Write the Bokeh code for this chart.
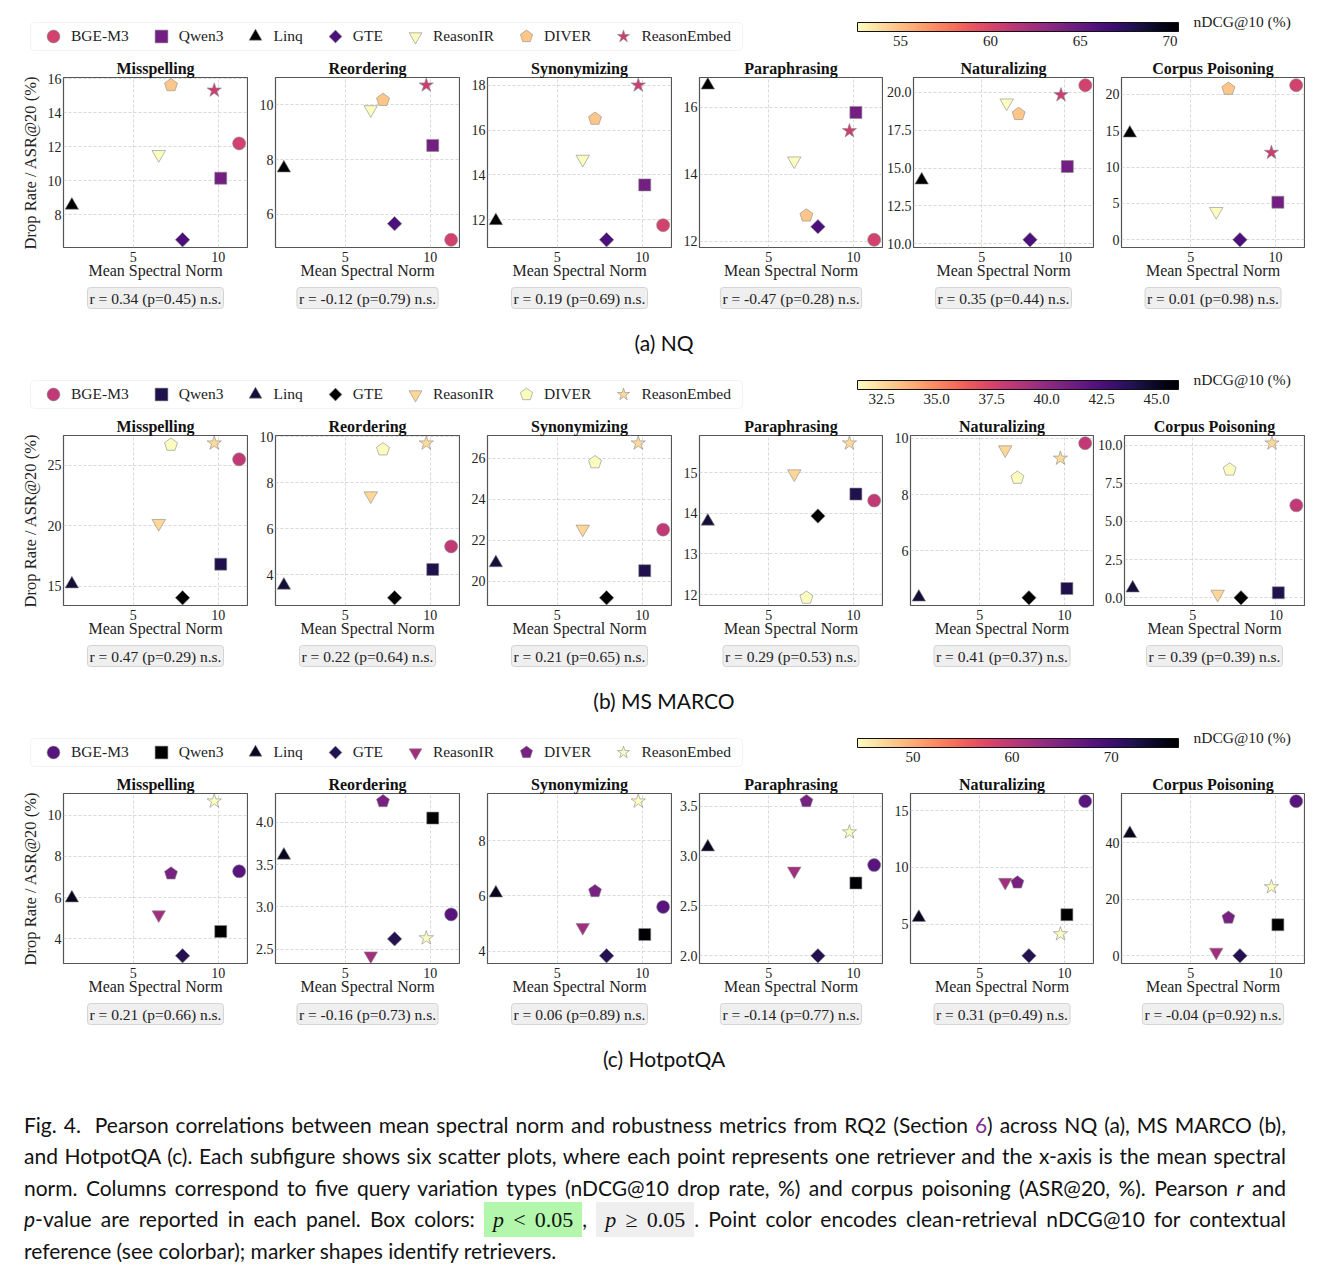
import numpy as np
from bokeh.plotting import figure
from bokeh.models import (ColumnDataSource, CDSView, IndexFilter, LinearColorMapper,
                          ColorBar, FixedTicker, CustomJSTickFormatter, Label, Legend,
                          LegendItem, BoxAnnotation, Range1d, Div, Title)
from bokeh.layouts import column, row
from bokeh.palettes import Magma256
from bokeh.transform import transform
from bokeh.embed import file_html
from bokeh.resources import INLINE

SERIF = "Liberation Serif"
SANS = "Lato"

# ---------------------------------------------------------------- data
retrievers = ["BGE-M3", "Qwen3", "Linq", "GTE", "ReasonIR", "DIVER", "ReasonEmbed"]
spectral_norm = [11.22, 10.14, 1.40, 7.90, 6.50, 7.22, 9.76]
variations = ["Misspelling", "Reordering", "Synonymizing", "Paraphrasing",
              "Naturalizing", "Corpus Poisoning"]
x_tick_labels = ["5", "10"]

# NQ
nq_ndcg = [60.3, 64.4, 70.47, 66.2, 52.6, 54.7, 60.6]
nq_misspelling = [12.20, 10.15, 8.55, 6.52, 11.55, 15.63, 15.33]
nq_reordering = [5.07, 8.52, 7.69, 5.66, 9.83, 10.18, 10.72]
nq_synonymizing = [11.75, 13.55, 11.95, 11.10, 14.70, 16.50, 18.00]
nq_paraphrasing = [12.05, 15.84, 16.65, 12.44, 14.40, 12.77, 15.29]
nq_naturalizing = [20.46, 15.10, 14.20, 10.27, 19.30, 18.56, 19.82]
nq_poisoning = [21.24, 5.16, 14.65, 0.00, 3.90, 20.74, 11.98]
nq_r_text = ["r = 0.34 (p=0.45) n.s.", "r = -0.12 (p=0.79) n.s.", "r = 0.19 (p=0.69) n.s.",
             "r = -0.47 (p=0.28) n.s.", "r = 0.35 (p=0.44) n.s.", "r = 0.01 (p=0.98) n.s."]
nq_y_ticks = [["8", "10", "12", "14", "16"], ["6", "8", "10"], ["12", "14", "16", "18"],
              ["12", "14", "16"], ["10.0", "12.5", "15.0", "17.5", "20.0"],
              ["0", "5", "10", "15", "20"]]
nq_cbar_ticks = ["55", "60", "65", "70"]

# MS MARCO
ms_ndcg = [38.3, 44.0, 44.5, 46.0, 32.6, 31.4, 32.5]
ms_misspelling = [25.47, 16.84, 15.20, 14.07, 20.20, 26.67, 26.80]
ms_reordering = [5.23, 4.23, 3.54, 3.00, 7.43, 9.44, 9.71]
ms_synonymizing = [22.52, 20.52, 20.90, 19.20, 22.55, 25.80, 26.73]
ms_paraphrasing = [14.31, 14.47, 13.80, 13.93, 14.97, 11.92, 15.72]
ms_naturalizing = [9.83, 4.66, 4.35, 4.33, 9.60, 8.60, 9.29]
ms_poisoning = [6.06, 0.33, 0.63, 0.00, 0.24, 8.40, 10.13]
ms_r_text = ["r = 0.47 (p=0.29) n.s.", "r = 0.22 (p=0.64) n.s.", "r = 0.21 (p=0.65) n.s.",
             "r = 0.29 (p=0.53) n.s.", "r = 0.41 (p=0.37) n.s.", "r = 0.39 (p=0.39) n.s."]
ms_y_ticks = [["15", "20", "25"], ["4", "6", "8", "10"], ["20", "22", "24", "26"],
              ["12", "13", "14", "15"], ["6", "8", "10"],
              ["0.0", "2.5", "5.0", "7.5", "10.0"]]
ms_cbar_ticks = ["32.5", "35.0", "37.5", "40.0", "42.5", "45.0"]

# HotpotQA
hp_ndcg = [68.0, 76.8, 74.9, 72.0, 62.2, 65.5, 44.4]
hp_misspelling = [7.28, 4.36, 5.98, 3.18, 5.17, 7.17, 10.68]
hp_reordering = [2.91, 4.05, 3.61, 2.62, 2.42, 4.25, 2.63]
hp_synonymizing = [5.60, 4.60, 6.10, 3.83, 4.86, 6.17, 9.43]
hp_paraphrasing = [2.91, 2.73, 3.09, 2.00, 2.85, 3.55, 3.24]
hp_naturalizing = [15.82, 5.85, 5.60, 2.24, 8.70, 8.67, 4.15]
hp_poisoning = [54.8, 11.0, 43.3, 0.0, 1.3, 13.5, 24.4]
hp_r_text = ["r = 0.21 (p=0.66) n.s.", "r = -0.16 (p=0.73) n.s.", "r = 0.06 (p=0.89) n.s.",
             "r = -0.14 (p=0.77) n.s.", "r = 0.31 (p=0.49) n.s.", "r = -0.04 (p=0.92) n.s."]
hp_y_ticks = [["4", "6", "8", "10"], ["2.5", "3.0", "3.5", "4.0"], ["4", "6", "8"],
              ["2.0", "2.5", "3.0", "3.5"], ["5", "10", "15"], ["0", "20", "40"]]
hp_cbar_ticks = ["50", "60", "70"]

datasets = [
    ("(a) NQ", nq_ndcg, [nq_misspelling, nq_reordering, nq_synonymizing, nq_paraphrasing,
                         nq_naturalizing, nq_poisoning], nq_r_text, nq_y_ticks, nq_cbar_ticks),
    ("(b) MS MARCO", ms_ndcg, [ms_misspelling, ms_reordering, ms_synonymizing, ms_paraphrasing,
                               ms_naturalizing, ms_poisoning], ms_r_text, ms_y_ticks, ms_cbar_ticks),
    ("(c) HotpotQA", hp_ndcg, [hp_misspelling, hp_reordering, hp_synonymizing, hp_paraphrasing,
                               hp_naturalizing, hp_poisoning], hp_r_text, hp_y_ticks, hp_cbar_ticks),
]

# ---------------------------------------------------------------- styling
MARKERS = {
    "BGE-M3": dict(kind="scatter", marker="circle", size=13),
    "Qwen3": dict(kind="scatter", marker="square", size=12),
    "Linq": dict(kind="scatter", marker="triangle", size=13.5),
    "GTE": dict(kind="ngon", radius=7.2, n=4, angle=0.0),
    "ReasonIR": dict(kind="scatter", marker="inverted_triangle", size=13.5),
    "DIVER": dict(kind="ngon", radius=6.8, n=5, angle=0.0),
    "ReasonEmbed": dict(kind="scatter", marker="star", size=15),
}
EDGE = "#8a8a8a"

HEADER_H = 55
BORDER_T = 22
FRAME_H = 170
BORDER_B = 71
BORDER_R = 1
FRAME_W = [184, 184, 184, 183, 183, 183]
BORDER_L = [63, 27, 27, 27, 27, 27]

FMT_CODE = """
const i = tv.findIndex((t) => Math.abs(t - tick) < 1e-6);
return i >= 0 ? tl[i] : "";
"""


def tick_formatter(values, labels):
    return CustomJSTickFormatter(args=dict(tv=values, tl=labels), code=FMT_CODE)


def add_marker(p, name, source, view, fill):
    st = MARKERS[name]
    common = dict(source=source, view=view, fill_color=fill, line_color=EDGE, line_width=0.6)
    if st["kind"] == "ngon":
        return p.ngon(x="x", y="y", radius=st["radius"], radius_units="screen",
                      n=st["n"], angle=st["angle"], **common)
    return p.scatter(x="x", y="y", marker=st["marker"], size=st["size"],
                     angle=st.get("angle", 0.0), **common)


def make_mapper(ndcg):
    return LinearColorMapper(palette=list(reversed(Magma256)), low=min(ndcg), high=max(ndcg))


def make_header(ndcg, mapper, cbar_ticks):
    h = figure(width=1328, height=HEADER_H, x_range=Range1d(0, 1328),
               y_range=Range1d(HEADER_H, 0), x_axis_type=None, y_axis_type=None,
               output_backend="svg", toolbar_location=None, min_border=0)
    h.outline_line_color = None
    h.background_fill_color = "white"
    h.border_fill_color = "white"
    h.add_layout(BoxAnnotation(left=30, right=742, top=22, bottom=50, fill_color="white",
                               fill_alpha=1, line_color="#d8d8d8", line_width=1,
                               border_radius=4))
    fill = transform("ndcg", mapper)
    rends = []
    for i, name in enumerate(retrievers):
        src = ColumnDataSource(dict(x=np.array([np.nan]), y=np.array([np.nan]),
                                    ndcg=np.array([ndcg[i]])))
        rends.append(add_marker(h, name, src, CDSView(), fill))
    legend = Legend(items=[LegendItem(label=n, renderers=[r]) for n, r in zip(retrievers, rends)],
                    orientation="horizontal", location=(37, HEADER_H - 52),
                    glyph_width=32, glyph_height=32, label_height=32, padding=0,
                    spacing=16, label_standoff=2, margin=0, border_line_color=None,
                    background_fill_alpha=0, label_text_font=SERIF,
                    label_text_font_size="15.5px", label_text_color="#222222")
    h.add_layout(legend, "center")

    cvals = [float(t) for t in cbar_ticks]
    cb = ColorBar(color_mapper=mapper, orientation="horizontal", location=(857, HEADER_H - 48),
                  width=321, height=9, padding=0, margin=0,
                  ticker=FixedTicker(ticks=cvals), formatter=tick_formatter(cvals, cbar_ticks),
                  major_label_text_font=SERIF, major_label_text_font_size="15px",
                  major_label_text_color="#222222", label_standoff=4,
                  major_tick_out=0, major_tick_in=0, major_tick_line_color=None,
                  minor_tick_line_color=None, bar_line_color="#111111", bar_line_width=1,
                  border_line_color=None, background_fill_alpha=0)
    h.add_layout(cb, "center")
    h.add_layout(Label(x=1193, y=21, text="nDCG@10 (%)", text_font=SERIF,
                       text_font_size="15.5px", text_color="#222222", text_baseline="middle"))
    return h


def make_panel(col, yvals, y_ticks, r_text, ndcg, mapper):
    fw, bl = FRAME_W[col], BORDER_L[col]
    x0, x1 = min(spectral_norm), max(spectral_norm)
    xm = 0.05 * (x1 - x0)
    y0, y1 = min(yvals), max(yvals)
    ym = 0.05 * (y1 - y0)
    p = figure(width=bl + fw + BORDER_R, height=BORDER_T + FRAME_H + BORDER_B,
               x_range=Range1d(x0 - xm, x1 + xm), y_range=Range1d(y0 - ym, y1 + ym),
               output_backend="svg", toolbar_location=None,
               min_border_left=bl, min_border_right=BORDER_R,
               min_border_top=BORDER_T, min_border_bottom=BORDER_B)
    p.background_fill_color = "white"
    p.border_fill_color = "white"
    p.outline_line_color = "#555555"
    p.outline_line_width = 1.2

    p.title = Title(text=variations[col], align="center", text_font=SERIF,
                    text_font_size="16px", text_font_style="bold", text_color="#111111",
                    standoff=2, offset=0)

    xv = [float(t) for t in x_tick_labels]
    yv = [float(t) for t in y_ticks]
    for ax, vals, labs in ((p.xaxis[0], xv, x_tick_labels), (p.yaxis[0], yv, y_ticks)):
        ax.ticker = FixedTicker(ticks=vals)
        ax.formatter = tick_formatter(vals, labs)
        ax.major_label_text_font = SERIF
        ax.major_label_text_font_size = "14px"
        ax.major_label_text_color = "#222222"
        ax.major_tick_out = 0
        ax.major_tick_in = 0
        ax.major_tick_line_color = None
        ax.minor_tick_line_color = None
        ax.axis_line_color = None
        ax.major_label_standoff = 2
    p.xaxis.major_label_standoff = 4
    p.xaxis.axis_label = "Mean Spectral Norm"
    p.xaxis.axis_label_text_font = SERIF
    p.xaxis.axis_label_text_font_size = "16px"
    p.xaxis.axis_label_text_font_style = "normal"
    p.xaxis.axis_label_text_color = "#222222"
    p.xaxis.axis_label_standoff = -3
    if col == 0:
        p.yaxis.axis_label = "Drop Rate / ASR@20 (%)"
        p.yaxis.axis_label_text_font = SERIF
        p.yaxis.axis_label_text_font_size = "16.5px"
        p.yaxis.axis_label_text_font_style = "normal"
        p.yaxis.axis_label_text_color = "#222222"
        p.yaxis.axis_label_standoff = 5

    p.grid.grid_line_color = "#cfcfcf"
    p.grid.grid_line_dash = "3 2"
    p.grid.grid_line_width = 0.8

    src = ColumnDataSource(dict(x=spectral_norm, y=yvals, ndcg=ndcg))
    fill = transform("ndcg", mapper)
    for i, name in enumerate(retrievers):
        add_marker(p, name, src, CDSView(filter=IndexFilter([i])), fill)

    p.add_layout(Title(text=r_text, align="center", text_font=SERIF,
                       text_font_size="15.5px", text_font_style="normal",
                       text_color="#222222", background_fill_color="#efefef",
                       border_line_color="#d4d4d4", border_line_width=1,
                       padding=2, border_radius=3, standoff=8), "below")
    return p


blocks = []
for caption, ndcg, series, r_texts, y_ticks, cbar_ticks in datasets:
    mapper = make_mapper(ndcg)
    blocks.append(make_header(ndcg, mapper, cbar_ticks))
    panels = [make_panel(c, series[c], y_ticks[c], r_texts[c], ndcg, mapper) for c in range(6)]
    blocks.append(row(*panels, spacing=0))
    blocks.append(Div(text=(f'<div style="font-family:{SANS};font-size:21px;color:#111;'
                            f'text-align:center;width:1328px;padding-top:7px;'
                            f'line-height:35px;">{caption}</div>'),
                      width=1328, height=40, margin=0))

sig_box = ('<span style="background:#b3f7ac;padding:5px 9px;font-family:\'Liberation Serif\';'
           'font-size:22px;"><i>p</i> &lt; 0.05</span>')
ns_box = ('<span style="background:#efefef;padding:5px 9px;font-family:\'Liberation Serif\';'
          'font-size:22px;"><i>p</i> &ge; 0.05</span>')
caption_lines = [
    'Fig. 4.&nbsp; Pearson correlations between mean spectral norm and robustness metrics from '
    'RQ2 (Section <span style="color:#7d2e8f">6</span>) across NQ (a), MS MARCO (b),',
    'and HotpotQA (c). Each subfigure shows six scatter plots, where each point represents one '
    'retriever and the x-axis is the mean spectral',
    'norm. Columns correspond to five query variation types (nDCG@10 drop rate, %) and corpus '
    'poisoning (ASR@20, %). Pearson <i>r</i> and',
    f'<i>p</i>-value are reported in each panel. Box colors: {sig_box}, {ns_box}. Point color '
    'encodes clean-retrieval nDCG@10 for contextual',
    'reference (see colorbar); marker shapes identify retrievers.',
]
line_html = "".join(
    f'<div style="text-align:justify;text-align-last:{"justify" if k < 4 else "left"};">{t}</div>'
    for k, t in enumerate(caption_lines))
blocks.append(Div(text=(f'<div style="font-family:{SANS};font-size:21px;color:#111;'
                        f'line-height:31.3px;width:1286px;padding:35px 0 0 24px;">'
                        f'{line_html}</div>'),
                  width=1328, height=207, margin=0))

layout = column(*blocks, spacing=0)
open("out.html", "w").write(file_html(layout, INLINE))
